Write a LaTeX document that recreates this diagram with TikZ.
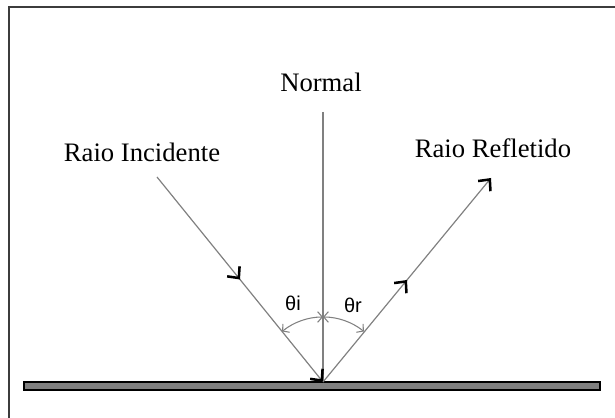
\documentclass[tikz,border=0pt]{standalone}
\usepackage{fontspec}
\setmainfont{Liberation Serif}
\newfontfamily\anglefont{Liberation Sans}
\usetikzlibrary{arrows.meta,decorations.markings,calc}
\definecolor{rayGray}{RGB}{128,128,128}
\definecolor{frameGray}{RGB}{60,60,60}
\definecolor{mirrorGray}{RGB}{128,128,128}

\begin{document}
\begin{tikzpicture}[
  x=0.75pt, y=0.75pt,
  barb/.tip={Straight Barb[length=6.5pt, width=12pt, line width=1.9pt, color=black]},
  ray/.style={draw=rayGray, line width=0.9pt, -{barb},
              postaction={decorate},
              decoration={markings, mark=at position 0.5 with {\arrow{barb}}}},
  anglearc/.style={draw=rayGray, line width=0.8pt,
                   {Straight Barb[length=3.5pt, width=8pt]}-{Straight Barb[length=3.5pt, width=8pt]}},
  lbl/.style={font=\fontsize{20}{24}\selectfont, inner sep=0pt},
  anglelbl/.style={font=\anglefont\fontsize{15}{17}\selectfont, inner sep=0pt}
]
  \useasboundingbox (0,0) rectangle (615,418);
  % frame and mirror
  \draw[frameGray, line width=1.5pt] (9,0) -- (9,411) -- (615,411);
  \draw[fill=mirrorGray, line width=1pt] (24,28) rectangle (600,36);

  \coordinate (O) at (323,36);
  \coordinate (N) at (323,306);
  \coordinate (A) at (157,241);
  \coordinate (B) at (491,240);

  \node[lbl] (normal)   at (321,336) {Normal};
  \node[lbl] (incident) at (142,266) {Raio Incidente};
  \node[lbl] (reflect)  at (493,270) {Raio Refletido};

  \draw[rayGray, line width=0.9pt] (N) -- (O);
  \draw[ray] (A) -- (O);
  \draw[ray] (O) -- (B);

  % angles
  \draw[anglearc] ($(O)+(129:65)$) arc[start angle=129, end angle=90, radius=65];
  \draw[anglearc] ($(O)+(90:65)$) arc[start angle=90, end angle=51, radius=65];
  \node[anglelbl] (thi) at (293,115) {θi};
  \node[anglelbl] (thr) at (353,113) {θr};
\end{tikzpicture}
\end{document}
